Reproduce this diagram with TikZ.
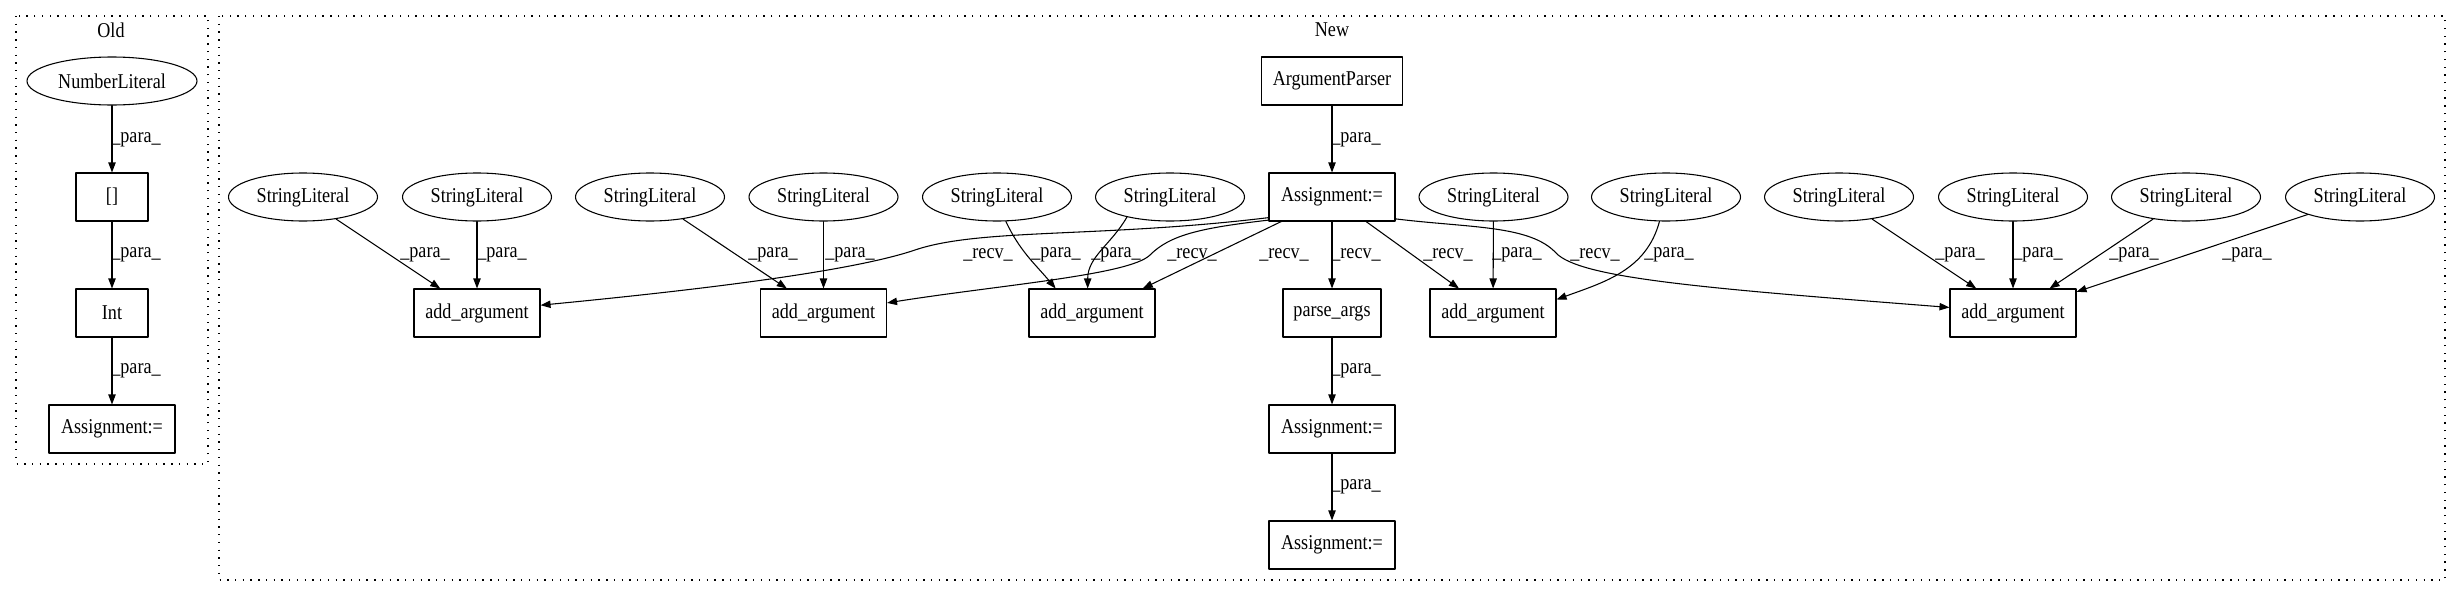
\documentclass[tikz,border=0pt]{standalone}
\usepackage{fontspec}
\setmainfont{Liberation Serif}[FakeStretch=0.86]
\usetikzlibrary{arrows.meta,shapes.geometric}
\newcommand{\LineColor}{black}
\newcommand{\ParaLbl}{\_para\_}
\newcommand{\RecvLbl}{\_recv\_}

\begin{document}
\begin{tikzpicture}[line cap=round,line
  join=round,>={Triangle[length=7.5pt,width=5.5pt]},x=0.75pt,y=-0.75pt,
  litnode/.style={draw=\LineColor,ellipse,line width=0.8pt,minimum width=111.75pt,
    minimum height=36pt,inner sep=0pt,font=\fontsize{15.8}{18}\selectfont},
  opnode/.style={draw=\LineColor,rectangle,line width=0.8pt,minimum width=94.5pt,
    minimum height=36pt,inner sep=0pt,font=\fontsize{15.8}{18}\selectfont},
  depline/.style={->,line width=0.8pt,draw=\LineColor},
  deplbl/.style={inner sep=0pt,font=\fontsize{15.8}{18}\selectfont},
  clusterbox/.style={line width=0.9pt,line cap=butt,dash pattern=on 1pt off 4.8pt}]
  \useasboundingbox (0,0) rectangle (2461,596);
  \draw [clusterbox] (16,16) rectangle (208,464);
  \draw [clusterbox] (219,16) rectangle (2445,580);
  \node [deplbl] (oldTitle) at (111,30) {Old};
  \node [deplbl] (newTitle) at (1332,30) {New};

  \node [litnode,minimum width=127.5pt] (numLit) at (112,81) {NumberLiteral};
  \node [opnode,minimum width=54pt] (idxOld) at (112,197) {[]};
  \node [opnode,minimum width=54pt] (intOld) at (112,313) {Int};
  \node [opnode] (asgOld) at (112,429) {Assignment:=};

  \node [opnode,minimum width=105.75pt] (argParser) at (1332,81) {ArgumentParser};
  \node [opnode] (asgN) at (1332,197) {Assignment:=};
  \node [opnode,minimum width=73.5pt] (parseArgs) at (1332,313) {parse\_args};
  \node [opnode] (asgP) at (1332,429) {Assignment:=};
  \node [opnode] (asgQ) at (1332,545) {Assignment:=};
  \node [opnode] (addA) at (477,313) {add\_argument};
  \node [opnode] (addB) at (823.5,313) {add\_argument};
  \node [opnode] (addC) at (1092,313) {add\_argument};
  \node [opnode] (addD) at (1493,313) {add\_argument};
  \node [opnode] (addE) at (2013,313) {add\_argument};
  \node [litnode] (sl1) at (303,197) {StringLiteral};
  \node [litnode] (sl2) at (477,197) {StringLiteral};
  \node [litnode] (sl3) at (650,197) {StringLiteral};
  \node [litnode] (sl4) at (823.5,197) {StringLiteral};
  \node [litnode] (sl5) at (997,197) {StringLiteral};
  \node [litnode] (sl6) at (1170,197) {StringLiteral};
  \node [litnode] (sl7) at (1493.5,197) {StringLiteral};
  \node [litnode] (sl8) at (1666,197) {StringLiteral};
  \node [litnode] (sl9) at (1839,197) {StringLiteral};
  \node [litnode] (sl10) at (2013,197) {StringLiteral};
  \node [litnode] (sl11) at (2186,197) {StringLiteral};
  \node [litnode] (sl12) at (2360,197) {StringLiteral};

  \draw [depline] (numLit) -- (idxOld) node [deplbl] at (136,140) {\ParaLbl};
  \draw [depline] (idxOld) -- (intOld) node [deplbl] at (136,255) {\ParaLbl};
  \draw [depline] (intOld) -- (asgOld) node [deplbl] at (136,371) {\ParaLbl};

  \draw [depline] (argParser) -- (asgN) node [deplbl] at (1356,140) {\ParaLbl};
  \draw [depline] (asgN) -- (parseArgs) node [deplbl] at (1356,255) {\RecvLbl};
  \draw [depline] (parseArgs) -- (asgP) node [deplbl] at (1356,371) {\ParaLbl};
  \draw [depline] (asgP) -- (asgQ) node [deplbl] at (1356,487) {\ParaLbl};
  \draw [depline] (sl1) -- (addA) node [deplbl] at (425,255) {\ParaLbl};
  \draw [depline] (sl2) -- (addA) node [deplbl] at (502,255) {\ParaLbl};
  \draw [depline] (sl3) -- (addB) node [deplbl] at (773,255) {\ParaLbl};
  \draw [depline] (sl4) -- (addB) node [deplbl] at (850,255) {\ParaLbl};
  \draw [depline] (sl5.-70) to[out=-65,in=130] (addC.146) node [deplbl] at (1056,255) {\ParaLbl};
  \draw [depline] (sl6.-155) to[out=-120,in=90] (addC.100) node [deplbl] at (1116,255) {\ParaLbl};
  \draw [depline] (sl7) -- (addD) node [deplbl] at (1517,255) {\ParaLbl};
  \draw [depline] (sl8.-105) to[out=-105,in=20] (addD.12) node [deplbl] at (1669,255) {\ParaLbl};
  \draw [depline] (sl9) -- (addE) node [deplbl] at (1960,255) {\ParaLbl};
  \draw [depline] (sl10) -- (addE) node [deplbl] at (2038,255) {\ParaLbl};
  \draw [depline] (sl11) -- (addE) node [deplbl] at (2134,255) {\ParaLbl};
  \draw [depline] (sl12) -- (addE) node [deplbl] at (2247,255) {\ParaLbl};

  \draw [depline] (asgN.198) .. controls (1100,238) and (980,228) .. (915,250)
    .. controls (865,267) and (750,285) .. (addA.7) node [deplbl] at (988,255) {\RecvLbl};
  \draw [depline] (asgN.200) .. controls (1200,228) and (1170,235) .. (1150,255)
    .. controls (1130,275) and (1000,285) .. (addB.9) node [deplbl] at (1192,255) {\RecvLbl};
  \draw [depline] (asgN) -- (addC) node [deplbl] at (1284,255) {\RecvLbl};
  \draw [depline] (asgN) -- (addD) node [deplbl] at (1448,255) {\RecvLbl};
  \draw [depline] (asgN.-19) .. controls (1470,228) and (1530,225) .. (1556,253)
    .. controls (1580,278) and (1700,288) .. (addE.175) node [deplbl] at (1595,255) {\RecvLbl};
\end{tikzpicture}
\end{document}
